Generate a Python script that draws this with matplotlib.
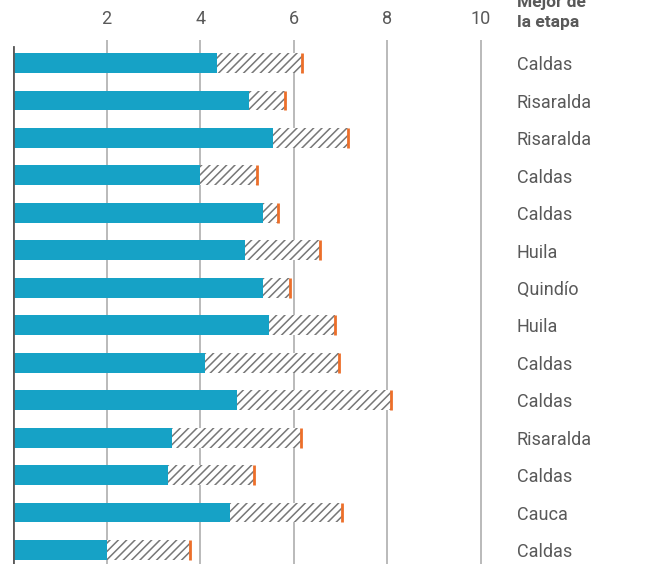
import matplotlib
matplotlib.use("Agg")
import matplotlib.pyplot as plt
import matplotlib.transforms as mtransforms
import numpy as np

# ------------------------------
# data (one row per stage, top to bottom)
mejor = ["Caldas", "Risaralda", "Risaralda", "Caldas", "Caldas", "Huila", "Quindío",
         "Huila", "Caldas", "Caldas", "Risaralda", "Caldas", "Cauca", "Caldas"]
base = [4.36, 5.04, 5.56, 4.00, 5.35, 4.96, 5.34, 5.47, 4.10, 4.78, 3.40, 3.31, 4.64, 2.01]
total = [6.18, 5.81, 7.16, 5.22, 5.66, 6.57, 5.92, 6.88, 6.97, 8.07, 6.16, 5.16, 7.04, 3.79]
xticks = [2, 4, 6, 8, 10]
# ------------------------------

blue = "#16a2c6"
orange = "#ec6f2a"
txt = "#595959"

plt.rcParams["font.family"] = ["Roboto", "DejaVu Sans"]
plt.rcParams["hatch.color"] = "#777777"
plt.rcParams["hatch.linewidth"] = 1.1

W, H = 650, 564
fig = plt.figure(figsize=(W / 100, H / 100), dpi=100)
ax = fig.add_axes([13 / W, 0, 472.7 / W, 1 - 40 / H])

y = np.arange(len(base))
base = np.array(base)
total = np.array(total)
h = 0.53

ax.barh(y, base, height=h, color=blue, zorder=3)
ax.barh(y, total - base, left=base, height=h, color="white", edgecolor="#777777",
        hatch="////", linewidth=0, zorder=3)
ax.vlines(total, y - h / 2, y + h / 2, color=orange, lw=2, zorder=4)

ax.set_xlim(0, 10.1)
ax.set_ylim(13.373, -0.613)

for xv in xticks:
    ax.axvline(xv, color="#b4b4b4", lw=1.3, zorder=1)
ax.axvline(0, ymax=0.987, color="#5a5a5a", lw=2, zorder=5)

ax.xaxis.tick_top()
ax.set_xticks(xticks)
ax.set_xticklabels([str(v) for v in xticks])
ax.tick_params(axis="x", length=0, pad=9, labelsize=13, labelcolor=txt)
ax.set_yticks([])
for s in ax.spines.values():
    s.set_visible(False)

trans = mtransforms.blended_transform_factory(fig.transFigure, ax.transData)
for yi, name in zip(y, mejor):
    ax.text(517 / W, yi + 0.06, name, transform=trans, ha="left", va="center",
            fontsize=13, color=txt, clip_on=False)

fig.text(517 / W, 1 - 7 / H, "Mejor de", ha="left", va="baseline",
         fontsize=12.5, fontweight="bold", color=txt)
fig.text(517 / W, 1 - 27 / H, "la etapa", ha="left", va="baseline",
         fontsize=12.5, fontweight="bold", color=txt)

fig.savefig("out.png", dpi=100)
